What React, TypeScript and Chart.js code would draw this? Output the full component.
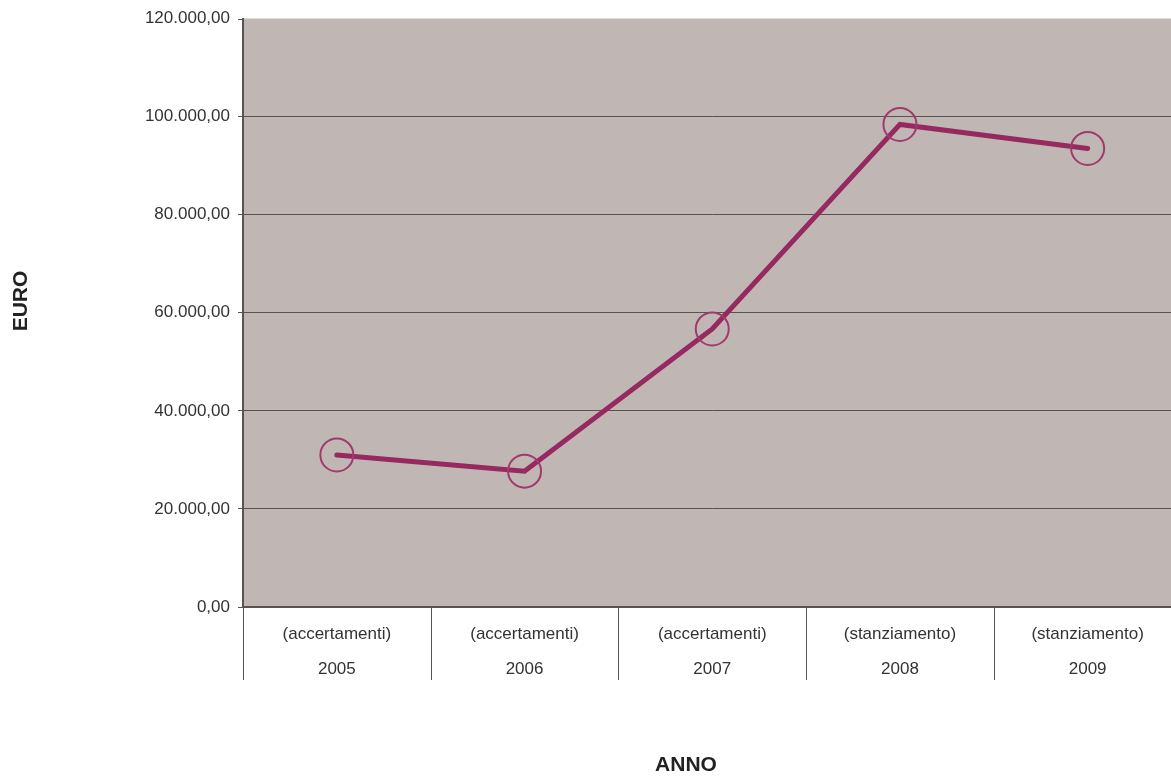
import React, { useEffect, useRef } from "react";
import { Chart, registerables } from "chart.js";

Chart.register(...registerables);

const categories: string[][] = [
  ["(accertamenti)", "2005"],
  ["(accertamenti)", "2006"],
  ["(accertamenti)", "2007"],
  ["(stanziamento)", "2008"],
  ["(stanziamento)", "2009"],
];
const values: number[] = [31000, 27700, 56700, 98400, 93500];
const yMax = 120000;
const yStep = 20000;
const yTitle = "EURO";
const xTitle = "ANNO";

const fmt = (v: number) => {
  const s = Math.round(v).toString().replace(/\B(?=(\d{3})+(?!\d))/g, ".");
  return s + ",00";
};

const FONT = "'Liberation Sans', Arial, sans-serif";
const GRID = "#5a5252";

const decoPlugin = {
  id: "deco",
  beforeDraw(chart: any) {
    const { ctx, chartArea } = chart;
    ctx.save();
    ctx.fillStyle = "#c0b7b4";
    ctx.fillRect(chartArea.left, chartArea.top, chartArea.right - chartArea.left, chartArea.bottom - chartArea.top);
    ctx.restore();
  },
  afterDraw(chart: any) {
    const { ctx, chartArea } = chart;
    const xs = chart.scales.x;
    const ys = chart.scales.y;
    ctx.save();
    ctx.strokeStyle = GRID;
    ctx.lineWidth = 1;
    for (let i = 0; i <= categories.length; i++) {
      const x = Math.round(xs.getPixelForValue(i - 0.5)) + 0.5;
      ctx.beginPath();
      ctx.moveTo(x, chartArea.bottom);
      ctx.lineTo(x, chartArea.bottom + 73);
      ctx.stroke();
    }
    // top tick mark (no gridline at top)
    const yt = Math.round(ys.getPixelForValue(yMax)) + 0.5;
    ctx.beginPath();
    ctx.moveTo(chartArea.left - 5, yt);
    ctx.lineTo(chartArea.left, yt);
    ctx.stroke();
    // zero line emphasised
    const y0 = ys.getPixelForValue(0);
    ctx.lineWidth = 2;
    ctx.beginPath();
    ctx.moveTo(chartArea.left, y0);
    ctx.lineTo(chartArea.right, y0);
    ctx.stroke();

    ctx.fillStyle = "#222";
    ctx.font = `bold 21px ${FONT}`;
    ctx.textAlign = "center";
    ctx.textBaseline = "middle";
    ctx.fillText(xTitle, 686, 765);
    ctx.translate(21, 301);
    ctx.rotate(-Math.PI / 2);
    ctx.fillText(yTitle, 0, 0);
    ctx.restore();
  },
};

export default function App() {
  const ref = useRef<HTMLCanvasElement>(null);
  useEffect(() => {
    if (!ref.current) return;
    const chart = new Chart(ref.current, {
      type: "line",
      data: {
        labels: categories,
        datasets: [
          {
            data: values,
            borderColor: "#962a60",
            borderWidth: 5,
            borderCapStyle: "round",
            borderJoinStyle: "miter",
            tension: 0,
            pointRadius: 16.5,
            pointHoverRadius: 16.5,
            pointBorderWidth: 2,
            pointBorderColor: "#a03a6c",
            pointBackgroundColor: "rgba(0,0,0,0)",
          },
        ],
      },
      options: {
        responsive: false,
        animation: false,
        layout: { padding: { left: 0, right: 0, top: 18, bottom: 0 } },
        plugins: { legend: { display: false }, tooltip: { enabled: false } },
        scales: {
          x: {
            offset: true,
            grid: { display: false, offset: true, drawTicks: false, tickLength: 0 },
            border: { display: false },
            ticks: {
              color: "#333",
              font: { family: FONT, size: 17, lineHeight: "35px" },
              padding: 10,
              maxRotation: 0,
              autoSkip: false,
            },
            afterFit: (s: any) => {
              s.height = 169;
            },
          },
          y: {
            min: 0,
            max: yMax,
            grid: {
              color: (c: any) => (c.tick && c.tick.value === yMax ? "rgba(0,0,0,0)" : GRID),
              lineWidth: 1,
              tickLength: 5,
              drawTicks: true,
            },
            border: { display: true, color: GRID, width: 2 },
            ticks: {
              stepSize: yStep,
              color: "#333",
              font: { family: FONT, size: 17 },
              padding: 8,
              callback: (v: any) => fmt(Number(v)),
            },
            afterFit: (s: any) => {
              s.width = 243;
            },
          },
        },
      },
      plugins: [decoPlugin],
    });
    return () => chart.destroy();
  }, []);
  return (
    <div style={{ position: "fixed", left: 0, top: 0, width: 1171, height: 776, overflow: "hidden", background: "#fff" }}>
      <canvas ref={ref} width={1200} height={776} style={{ display: "block" }} />
    </div>
  );
}
